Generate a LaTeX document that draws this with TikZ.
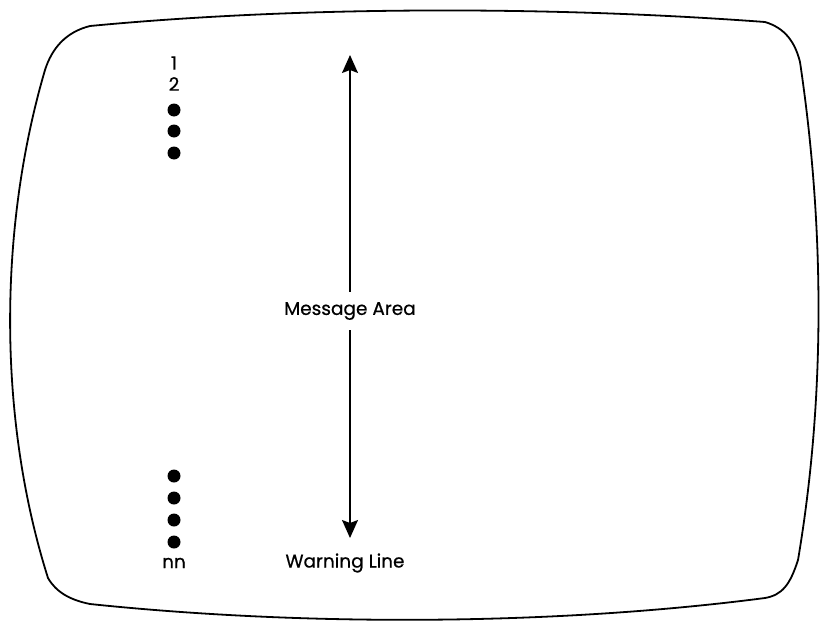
\documentclass[tikz,border=0pt]{standalone}
\usepackage{fontspec}
\setmainfont{Poppins}[FakeBold=0.6]
\usetikzlibrary{arrows.meta}
\begin{document}
\begin{tikzpicture}[x=1pt,y=-1pt,
  lbl/.style={font=\fontsize{18.5}{20}\selectfont, inner sep=0pt},
  dotn/.style={circle, fill=black, minimum size=13pt, inner sep=0pt},
  arr/.style={line width=1.4pt, -{Stealth[length=18pt,width=16pt,inset=3pt]}}]
\useasboundingbox (0,0) rectangle (820,624);
% screen outline
\draw[line width=1.8pt, line join=round]
  (90,26) .. controls (300,6) and (550,6) .. (765,22)
  .. controls (785,28) and (795,42) .. (800,62)
  .. controls (825,230) and (825,400) .. (798,560)
  .. controls (790,585) and (782,595) .. (765,598)
  .. controls (550,626) and (300,626) .. (90,604)
  .. controls (70,600) and (56,592) .. (48,578)
  .. controls (-2,420) and (-2,230) .. (45,70)
  .. controls (52,48) and (66,32) .. (90,26) -- cycle;
% left column
\node[lbl] (n1) at (174,63) {1};
\node[lbl] (n2) at (174,84) {2};
\node[dotn] (d1) at (174,110) {};
\node[dotn] (d2) at (174,131) {};
\node[dotn] (d3) at (174,153) {};
\node[dotn] (d4) at (174,476) {};
\node[dotn] (d5) at (174,498) {};
\node[dotn] (d6) at (174,520) {};
\node[dotn] (d7) at (174,542) {};
\node[lbl] (nn) at (174,563) {nn};
% message area
\coordinate (top) at (350,55);
\coordinate (bot) at (350,538);
\node[lbl, inner sep=10pt] (msg) at (350,311) {Message Area};
\draw[arr] (msg.north) -- (top);
\draw[arr] (msg.south) -- (bot);
\node[lbl] (warn) at (345,563) {Warning Line};
\end{tikzpicture}
\end{document}
